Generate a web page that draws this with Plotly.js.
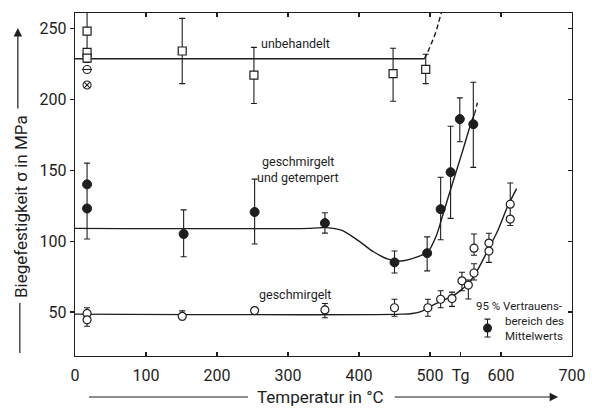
<!DOCTYPE html>
<html><head><meta charset="utf-8">
<script src="https://cdn.plot.ly/plotly-3.0.1.min.js"></script>
<style>html,body{margin:0;padding:0;background:#fff}#c{width:592px;height:410px}</style>
</head><body><div id="c"></div>
<script>
// ---- data ----
// unbehandelt (open squares)
var untX = [17, 17, 17, 151, 252, 448, 494];
var untY = [248, 233, 229, 234, 217, 218, 221];
var untLo = [null, 226, null, 211, 197, 198.6, 211];
var untHi = [null, 275, null, 257, 236.6, 236, 231.7];
// special single values at 17 °C
var specX = [17, 17];
var specY = [221, 210];
// geschmirgelt und getempert (filled circles)
var tempX = [17, 17, 153, 253, 352, 450, 496, 515, 529, 542, 561];
var tempY = [140, 123, 105, 120.5, 112.7, 85, 91.5, 122.5, 148.6, 186, 182.4];
var tempLo = [null, 101.5, 89, 98, 105.6, 77.5, 79, 101, 116, 170, 152];
var tempHi = [null, 155, 122, 143.7, 120, 93, 103, 145, 181, 201, 212];
// geschmirgelt (open circles)
var schmX = [17, 17, 151, 253, 352, 450, 497, 515, 531, 545, 554, 562, 562, 583, 583, 613, 613];
var schmY = [49, 44.5, 47, 51, 51.5, 53, 53, 59, 59.5, 72, 69, 77.5, 95, 98.6, 93, 126, 115.5];
var schmLo = [null, 40, 44.6, null, 46, 47, 47, 53, 54, 65, 59.2, 72.6, 90, null, 85, 111, null];
var schmHi = [null, 53, 50.8, null, 56, 59, 59, 65, 64, 78, 72.6, 84, 105, null, 105.5, 141, null];
// fitted curves
var curveUntX = [0, 492];
var curveUntY = [228.5, 228.5];
var curveUntDashX = [492, 496, 502, 508, 512, 516];
var curveUntDashY = [228.5, 232.4, 239.4, 247, 254, 261];
var curveTempX = [0, 330, 354, 375, 398, 421, 441, 460, 483, 497, 509, 516, 530, 545, 559, 563];
var curveTempY = [109, 109, 109.5, 107.7, 100.7, 92.3, 87.3, 86, 89, 92.5, 104, 115, 138, 162, 185, 190];
var curveTempDashX = [563, 567];
var curveTempDashY = [190, 198];
var curveSchmX = [0, 460, 475, 488, 497, 515, 531, 545, 554, 564, 582, 596, 609, 622];
var curveSchmY = [48.5, 48.5, 49, 50.5, 53, 57.5, 61, 66, 70, 77, 94, 108, 124, 137];
// legend sample (95 % confidence)
var legX = [581], legY = [38.7], legLo = [32.4], legHi = [45];
// ticks
var xTickVals = [0, 100, 200, 300, 400, 500, 543, 600, 700];
var xTickText = ['0', '100', '200', '300', '400', '500', 'Tg', '600', '700'];
var yTickVals = [50, 100, 150, 200, 250];

// ---- drawing ----
var INK = '#1e1e1e';
var FONT = 'Roboto, Liberation Sans, sans-serif';
function plus(y, hi) { return y.map(function (v, i) { return hi[i] == null ? NaN : hi[i] - v; }); }
function minus(y, lo) { return y.map(function (v, i) { return lo[i] == null ? NaN : v - lo[i]; }); }
function err(y, lo, hi) {
  return {type: 'data', symmetric: false, array: plus(y, hi), arrayminus: minus(y, lo),
          color: INK, thickness: 1.1, width: 3};
}
var lineStyle = {color: INK, width: 1.4, shape: 'spline', smoothing: 1};
var traces = [
  {x: curveUntX, y: curveUntY, mode: 'lines', line: lineStyle},
  {x: curveUntDashX, y: curveUntDashY, mode: 'lines', line: Object.assign({}, lineStyle, {dash: '5px,3px'})},
  {x: curveTempX, y: curveTempY, mode: 'lines', line: lineStyle},
  {x: curveTempDashX, y: curveTempDashY, mode: 'lines', line: Object.assign({}, lineStyle, {dash: '4px,3px'})},
  {x: curveSchmX, y: curveSchmY, mode: 'lines', line: lineStyle},
  {x: untX, y: untY, mode: 'markers', error_y: err(untY, untLo, untHi),
   marker: {symbol: 'square', size: 8, color: '#fff', line: {color: INK, width: 1.2}}},
  {x: tempX, y: tempY, mode: 'markers', error_y: err(tempY, tempLo, tempHi),
   marker: {symbol: 'circle', size: 9, color: INK, line: {color: INK, width: 1}}},
  {x: schmX, y: schmY, mode: 'markers', error_y: err(schmY, schmLo, schmHi),
   marker: {symbol: 'circle', size: 8, color: '#fff', line: {color: INK, width: 1.2}}},
  {x: [specX[0]], y: [specY[0]], mode: 'markers',
   marker: {symbol: 'circle', size: 8, color: '#fff', line: {color: INK, width: 1.1}}},
  {x: [specX[0]], y: [specY[0]], mode: 'markers',
   marker: {symbol: 'line-ew', size: 7, line: {color: INK, width: 1.1}}},
  {x: [specX[1]], y: [specY[1]], mode: 'markers',
   marker: {symbol: 'circle-x-open', size: 8, color: INK, line: {color: INK, width: 1.1}}},
  {x: legX, y: legY, mode: 'markers', error_y: err(legY, legLo, legHi),
   marker: {symbol: 'circle', size: 9, color: INK}},
  {x: [0], y: [0], xaxis: 'x2', yaxis: 'y2', mode: 'markers', marker: {opacity: 0}, hoverinfo: 'skip'}
];
traces.forEach(function (t) { t.showlegend = false; t.cliponaxis = true; });

var ax = {showgrid: false, zeroline: false, showline: true, linecolor: INK, linewidth: 1.3,
          tickcolor: INK, tickwidth: 1.2, ticklen: 4, tickfont: {family: FONT, size: 16, color: INK}};
var annFont = {family: FONT, size: 12.5, color: INK};
var legFont = {family: FONT, size: 11.5, color: INK};
var layout = {
  width: 592, height: 410,
  margin: {l: 75, r: 20, t: 13, b: 54},
  paper_bgcolor: '#fff', plot_bgcolor: '#fff',
  font: {family: FONT, color: INK},
  showlegend: false,
  xaxis: Object.assign({}, ax, {range: [0, 700], tickmode: 'array', tickvals: xTickVals, ticktext: xTickText,
                                ticks: 'inside', ticklabelstandoff: 4}),
  yaxis: Object.assign({}, ax, {range: [19, 260.8], tickmode: 'array', tickvals: yTickVals, ticks: 'outside'}),
  xaxis2: Object.assign({}, ax, {range: [0, 700], overlaying: 'x', side: 'top', anchor: 'y2',
                                 tickvals: [100, 200, 300, 400, 500, 600], tickmode: 'array',
                                 ticks: 'inside', showticklabels: false}),
  yaxis2: Object.assign({}, ax, {range: [19, 260.8], overlaying: 'y', side: 'right', anchor: 'x2',
                                 tickvals: yTickVals, tickmode: 'array', ticks: 'inside', showticklabels: false}),
  shapes: [
    {type: 'line', xref: 'paper', yref: 'paper', x0: 0.028, x1: 0.348, y0: -0.1195, y1: -0.1195,
     line: {color: INK, width: 1.2}},
    {type: 'line', xref: 'paper', yref: 'paper', x0: -0.111, x1: -0.111, y0: 0.0087, y1: 0.1545,
     line: {color: INK, width: 1.2}}
  ],
  annotations: [
    {xref: 'paper', yref: 'paper', x: 0.493, y: -0.1195, text: 'Temperatur in °C', showarrow: false,
     xanchor: 'center', yanchor: 'middle', font: {family: FONT, size: 17, color: INK}},
    {xref: 'paper', yref: 'paper', x: 0.972, y: -0.1195, ax: -165, ay: 0, text: '', showarrow: true,
     arrowhead: 2, arrowsize: 1.4, arrowwidth: 1.2, arrowcolor: INK},
    {xref: 'paper', yref: 'paper', x: -0.1087, y: 0.437, text: 'Biegefestigkeit σ in MPa', showarrow: false,
     textangle: -90, xanchor: 'center', yanchor: 'middle', font: {family: FONT, size: 17, color: INK}},
    {xref: 'paper', yref: 'paper', x: -0.115, y: 0.956, ax: 0, ay: 82, text: '', showarrow: true,
     arrowhead: 2, arrowsize: 1.4, arrowwidth: 1.2, arrowcolor: INK},
    {x: 310, y: 239.5, text: 'unbehandelt', showarrow: false, xanchor: 'center', yanchor: 'middle', font: annFont},
    {x: 314, y: 156, text: 'geschmirgelt', showarrow: false, xanchor: 'center', yanchor: 'middle', font: annFont},
    {x: 314, y: 144.5, text: 'und getempert', showarrow: false, xanchor: 'center', yanchor: 'middle', font: annFont},
    {x: 310, y: 62.7, text: 'geschmirgelt', showarrow: false, xanchor: 'center', yanchor: 'middle', font: annFont},
    {x: 563, y: 54.5, text: '95 % Vertrauens-', showarrow: false, xanchor: 'left', yanchor: 'middle',
     font: legFont, borderpad: 0},
    {x: 604, y: 38.2, text: 'bereich des<br>Mittelwerts', showarrow: false, xanchor: 'left', yanchor: 'middle',
     align: 'left', font: legFont, borderpad: 0}
  ]
};
Plotly.newPlot('c', traces, layout, {staticPlot: true, displayModeBar: false});
</script></body></html>
